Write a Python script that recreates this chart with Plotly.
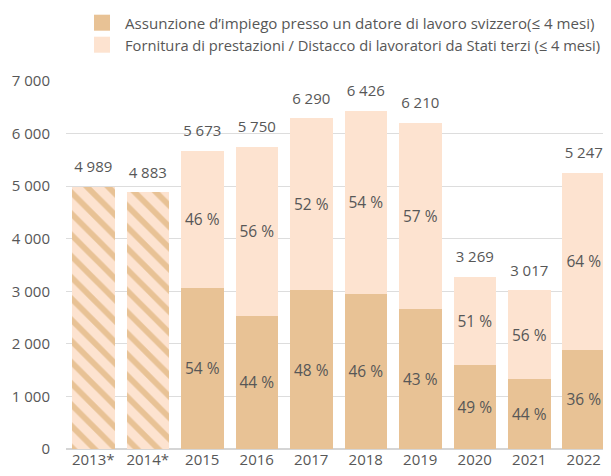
import plotly.graph_objects as go

categories = ["2013*", "2014*", "2015", "2016", "2017", "2018", "2019", "2020", "2021", "2022"]
totals = [4989, 4883, 5673, 5750, 6290, 6426, 6210, 3269, 3017, 5247]
# 2013/2014: only totals (hatched)
hatched_years = ["2013*", "2014*"]
hatched_totals = [4989, 4883]
# 2015-2022 split
split_years = ["2015", "2016", "2017", "2018", "2019", "2020", "2021", "2022"]
swiss_employer = [3063, 2530, 3019, 2956, 2670, 1602, 1327, 1889]
third_states = [2610, 3220, 3271, 3470, 3540, 1667, 1690, 3358]
swiss_pct = ["54 %", "44 %", "48 %", "46 %", "43 %", "49 %", "44 %", "36 %"]
third_pct = ["46 %", "56 %", "52 %", "54 %", "57 %", "51 %", "56 %", "64 %"]
series_names = [
    "Assunzione d’impiego presso un datore di lavoro svizzero(≤ 4 mesi)",
    "Fornitura di prestazioni / Distacco di lavoratori da Stati terzi (≤ 4 mesi)",
]

DARK = "#E8C295"
LIGHT = "#FDE3D0"
TXT = "#575757"
FONT = "Open Sans"

fig = go.Figure()
fig.add_trace(go.Bar(
    x=hatched_years, y=hatched_totals, showlegend=False,
    marker=dict(color=LIGHT, line=dict(width=0),
                pattern=dict(shape="\\", fgcolor=DARK, bgcolor=LIGHT, size=15, solidity=0.38, fillmode="replace")),
    hoverinfo="skip",
))
fig.add_trace(go.Bar(
    x=split_years, y=swiss_employer, name=series_names[0], showlegend=False,
    marker=dict(color=DARK, line=dict(width=0)),
    text=swiss_pct, textposition="inside", insidetextanchor="middle", constraintext="none", textangle=0,
    textfont=dict(color=TXT, size=15.5, family=FONT),
))
fig.add_trace(go.Bar(
    x=split_years, y=third_states, name=series_names[1], showlegend=False,
    marker=dict(color=LIGHT, line=dict(width=0)),
    text=third_pct, textposition="inside", insidetextanchor="middle", constraintext="none", textangle=0,
    textfont=dict(color=TXT, size=15.5, family=FONT),
))
fig.add_trace(go.Scatter(
    x=categories, y=totals, mode="markers+text", showlegend=False,
    marker=dict(size=16, color="rgba(0,0,0,0)"),
    text=[f"{v:,}".replace(",", " ") for v in totals], textposition="top center",
    textfont=dict(color=TXT, size=15, family=FONT), hoverinfo="skip", cliponaxis=False,
))

# manual legend (page body has an 8px default margin, figure is sized accordingly)
L, T, W, H = 58, 73, 603, 468
PW, PH = W - L, H - T - 27
def px(x):
    return (x - L) / PW
def py(y):
    return (H - 27 - y) / PH

for i, (col, name, fs) in enumerate(zip([DARK, LIGHT], series_names, [15.1, 14.7])):
    y0 = 6.7 + i * 22
    fig.add_shape(type="rect", xref="paper", yref="paper",
                  x0=px(86), x1=px(102), y0=py(y0), y1=py(y0 + 16),
                  fillcolor=col, line=dict(width=0))
    fig.add_annotation(xref="paper", yref="paper", x=px(115), y=py(y0 + 8),
                       xanchor="left", yanchor="middle", showarrow=False,
                       text=name, font=dict(size=fs, color=TXT, family=FONT))

fig.update_layout(
    width=W, height=H,
    margin=dict(l=L, r=0, t=T, b=27, autoexpand=False),
    barmode="stack", bargap=0.22,
    plot_bgcolor="white", paper_bgcolor="white",
    separators=", ",
    font=dict(family=FONT, color=TXT, size=15),
    showlegend=False,
)
fig.update_xaxes(categoryorder="array", categoryarray=categories, range=[-0.5, len(categories) - 0.5],
                 showline=False, ticks="", tickfont=dict(size=15, color=TXT))
fig.update_yaxes(range=[0, 7000], dtick=1000, tickformat=",d", showgrid=True, gridcolor="#dddddd",
                 gridwidth=1, zeroline=True, zerolinecolor="#d5d5d5", zerolinewidth=2,
                 tickfont=dict(size=15, color=TXT), ticks="outside", ticklen=12, tickcolor="white")

fig.write_html("out.html")
